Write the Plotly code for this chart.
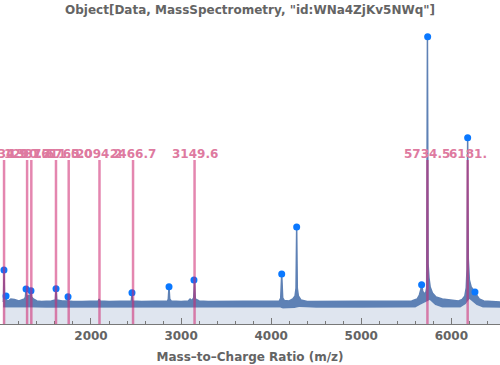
import plotly.graph_objects as go

# ---- data ----
# upper edge of the spectrum trace (m/z, intensity)
hi_mz = [1025, 1028, 1034.9, 1041, 1050, 1057, 1064, 1080, 1110, 1150, 1200, 1260, 1272, 1279, 1286,
         1300, 1320, 1327, 1334, 1341, 1360, 1400, 1450, 1500, 1560, 1604, 1612, 1620, 1680, 1738,
         1745, 1752, 1800, 1900, 2000, 2080, 2090, 2100, 2200, 2300, 2400, 2448, 2455, 2462, 2560,
         2700, 2850, 2858, 2866, 2874, 2890, 3000, 3080, 3100, 3120, 3140, 3149.6, 3158, 3200, 3300,
         3400, 3600, 3800, 4000, 4090, 4106, 4117, 4128, 4145, 4200, 4240, 4265, 4276, 4283, 4290,
         4302, 4330, 4400, 4600, 4800, 5000, 5200, 5400, 5560, 5620, 5645, 5660, 5670, 5682, 5700,
         5718, 5726, 5734.5, 5742, 5752, 5765, 5790, 5830, 5900, 6000, 6080, 6120, 6150, 6165, 6174,
         6181, 6188, 6200, 6220, 6245, 6262, 6280, 6310, 6360, 6450, 6540]
hi_int = [2200, 2300, 5400, 2400, 2300, 2800, 2350, 2300, 2500, 2450, 2300, 2500, 2700, 3500, 2800,
          2800, 2900, 2800, 3330, 2700, 2500, 2300, 2250, 2250, 2300, 2400, 3530, 2400, 2300, 2300,
          2730, 2300, 2250, 2250, 2250, 2300, 2500, 2300, 2250, 2250, 2250, 2300, 3130, 2300, 2250,
          2250, 2300, 2500, 3730, 2500, 2300, 2250, 2300, 2500, 2350, 2600, 4400, 2500, 2300, 2250,
          2250, 2250, 2250, 2250, 2300, 2600, 5000, 2600, 2350, 2300, 2500, 2800, 3600, 9700, 3600,
          2800, 2400, 2250, 2250, 2250, 2250, 2250, 2250, 2300, 2500, 2900, 3400, 3930, 3300, 3000,
          3200, 3600, 28730, 6000, 4600, 3700, 3100, 2700, 2500, 2350, 2300, 2450, 2800, 3600, 5500,
          18630, 6500, 4400, 3700, 3400, 3200, 2900, 2500, 2300, 2250, 2200]
# lower edge of the spectrum trace
lo_mz = [1025, 1100, 1300, 1360, 1500, 2000, 3000, 4000, 4100, 4130, 4260, 4310, 4500, 5000,
         5600, 5650, 5700, 5760, 5820, 5900, 6100, 6160, 6200, 6280, 6350, 6540]
lo_int = [1650, 1650, 1700, 1650, 1620, 1620, 1620, 1620, 1650, 1550, 1600, 1700, 1620, 1620,
          1650, 1900, 2100, 2400, 1900, 1650, 1650, 2000, 2500, 1900, 1650, 1620]

# picked peaks (dots)
dot_mz = [1034, 1057, 1279, 1334, 1612, 1745, 2455, 2866, 3143, 4117, 4283, 5670, 5737, 6181, 6262]
dot_int = [5400, 2800, 3500, 3330, 3530, 2730, 3130, 3730, 4400, 5000, 9700, 3930, 28730, 18630, 3200]

# labelled peaks
label_mz = [1034.9, 1290.7, 1337.6, 1611.5, 1752.6, 2094.2, 2466.7, 3149.6, 5734.5, 6181.0]
label_txt = ["1034.9", "1290.7", "1337.6", "1611.5", "1760.0", "2094.2", "2466.7", "3149.6", "5734.5", "6181."]

x_range = [990, 6540]
y_range = [0, 30200]
line_top = 16400
label_y = 17000

blue = "rgb(94,129,181)"
gray = "rgb(100,100,100)"
pink_text = "rgb(222,122,160)"
pink_line = "rgba(205,35,110,0.55)"

fig = go.Figure()
fig.add_trace(go.Scatter(x=lo_mz, y=lo_int, mode="lines", line=dict(width=0, color=blue),
                         fill="tozeroy", fillcolor="rgb(223,229,239)", hoverinfo="skip"))
fig.add_trace(go.Scatter(x=hi_mz, y=hi_int, mode="lines", line=dict(width=1.5, color=blue),
                         fill="tonexty", fillcolor=blue))
fig.add_trace(go.Scatter(x=dot_mz, y=dot_int, mode="markers",
                         marker=dict(size=7, color="rgb(10,120,255)")))

for m in label_mz:
    fig.add_shape(type="line", xref="x", yref="y", x0=m, x1=m, y0=0, y1=line_top,
                  line=dict(color=pink_line, width=2.5), layer="above")
for m, t in zip(label_mz, label_txt):
    fig.add_annotation(x=m, y=label_y, xref="x", yref="y", text=t, showarrow=False,
                       yanchor="middle", xanchor="center",
                       font=dict(family="DejaVu Sans", size=12, color=pink_text, weight="bold"))

fig.add_annotation(x=0.5, y=(324 - 10) / 302, xref="paper", yref="paper",
                   text='Object[Data, MassSpectrometry, "id:WNa4ZjKv5NWq"]', showarrow=False,
                   yanchor="middle", xanchor="center",
                   font=dict(family="DejaVu Sans", size=12, color=gray, weight="bold"))

fig.update_layout(
    width=500, height=365, margin=dict(l=0, r=0, t=22, b=41),
    paper_bgcolor="white", plot_bgcolor="white", showlegend=False,
    xaxis=dict(range=x_range, showgrid=False, zeroline=False, showline=True,
               linecolor="rgb(120,120,120)", linewidth=1.2,
               ticks="inside", ticklen=6, tickcolor="rgb(120,120,120)", dtick=1000, tick0=0,
               minor=dict(ticks="inside", ticklen=3, dtick=200, tickcolor="rgb(120,120,120)"),
               tickfont=dict(family="DejaVu Sans", size=12, color=gray, weight="bold"),
               title=dict(text="Mass–to–Charge Ratio (m/z)", standoff=11,
                          font=dict(family="DejaVu Sans", size=12, color=gray, weight="bold"))),
    yaxis=dict(range=y_range, visible=False),
)

fig.write_html("out.html", config={"displayModeBar": False},
               post_script="document.body.style.margin='0';")
